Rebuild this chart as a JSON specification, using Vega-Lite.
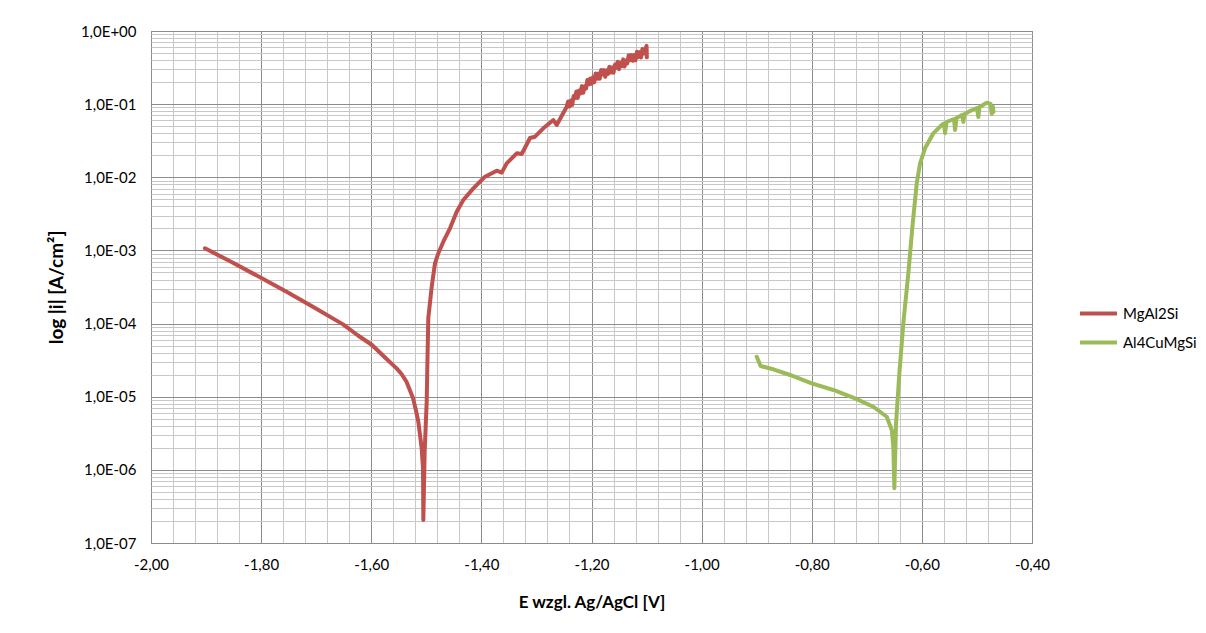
{
  "$schema": "https://vega.github.io/schema/vega-lite/v6.json",
  "autosize": {"type": "none"},
  "width": 881,
  "height": 512,
  "padding": {"left": 151, "top": 31, "right": 174, "bottom": 90},
  "background": "#ffffff",
  "config": {
    "view": {"stroke": "#8c8c8c", "strokeWidth": 1},
    "font": "Lato"
  },
  "data": {
    "values": [
      {"series": "MgAl2Si", "k": 1, "E": -1.902, "i": 0.00107},
      {"series": "MgAl2Si", "k": 2, "E": -1.8529, "i": 0.0006887},
      {"series": "MgAl2Si", "k": 3, "E": -1.802, "i": 0.0004295},
      {"series": "MgAl2Si", "k": 4, "E": -1.753, "i": 0.0002692},
      {"series": "MgAl2Si", "k": 5, "E": -1.7021, "i": 0.0001633},
      {"series": "MgAl2Si", "k": 6, "E": -1.6513, "i": 0.0000975},
      {"series": "MgAl2Si", "k": 7, "E": -1.624, "i": 0.00006871},
      {"series": "MgAl2Si", "k": 8, "E": -1.5986, "i": 0.00005093},
      {"series": "MgAl2Si", "k": 9, "E": -1.575, "i": 0.00003443},
      {"series": "MgAl2Si", "k": 10, "E": -1.554, "i": 0.0000244},
      {"series": "MgAl2Si", "k": 11, "E": -1.545, "i": 0.00002042},
      {"series": "MgAl2Si", "k": 12, "E": -1.536, "i": 0.000016},
      {"series": "MgAl2Si", "k": 13, "E": -1.53, "i": 0.00001236},
      {"series": "MgAl2Si", "k": 14, "E": -1.524, "i": 0.0000095},
      {"series": "MgAl2Si", "k": 15, "E": -1.519, "i": 0.000006577},
      {"series": "MgAl2Si", "k": 16, "E": -1.5145, "i": 0.00000455},
      {"series": "MgAl2Si", "k": 17, "E": -1.5084, "i": 0.00000197},
      {"series": "MgAl2Si", "k": 18, "E": -1.506, "i": 0.00000105},
      {"series": "MgAl2Si", "k": 19, "E": -1.5054, "i": 2.06e-7},
      {"series": "MgAl2Si", "k": 20, "E": -1.503, "i": 0.00000177},
      {"series": "MgAl2Si", "k": 21, "E": -1.4993, "i": 0.00000855},
      {"series": "MgAl2Si", "k": 22, "E": -1.4982, "i": 0.0000247},
      {"series": "MgAl2Si", "k": 23, "E": -1.4964, "i": 0.000118},
      {"series": "MgAl2Si", "k": 24, "E": -1.4902, "i": 0.000319},
      {"series": "MgAl2Si", "k": 25, "E": -1.4842, "i": 0.000667},
      {"series": "MgAl2Si", "k": 26, "E": -1.4782, "i": 0.000914},
      {"series": "MgAl2Si", "k": 27, "E": -1.4691, "i": 0.001315},
      {"series": "MgAl2Si", "k": 28, "E": -1.457, "i": 0.002004},
      {"series": "MgAl2Si", "k": 29, "E": -1.4448, "i": 0.003381},
      {"series": "MgAl2Si", "k": 30, "E": -1.4328, "i": 0.004887},
      {"series": "MgAl2Si", "k": 31, "E": -1.4146, "i": 0.007063},
      {"series": "MgAl2Si", "k": 32, "E": -1.3934, "i": 0.01019},
      {"series": "MgAl2Si", "k": 33, "E": -1.3721, "i": 0.0123},
      {"series": "MgAl2Si", "k": 34, "E": -1.363, "i": 0.01156},
      {"series": "MgAl2Si", "k": 35, "E": -1.354, "i": 0.01552},
      {"series": "MgAl2Si", "k": 36, "E": -1.3358, "i": 0.02128},
      {"series": "MgAl2Si", "k": 37, "E": -1.3267, "i": 0.0208},
      {"series": "MgAl2Si", "k": 38, "E": -1.3117, "i": 0.03443},
      {"series": "MgAl2Si", "k": 39, "E": -1.3026, "i": 0.03589},
      {"series": "MgAl2Si", "k": 40, "E": -1.2875, "i": 0.04677},
      {"series": "MgAl2Si", "k": 41, "E": -1.2693, "i": 0.06067},
      {"series": "MgAl2Si", "k": 42, "E": -1.2632, "i": 0.05188},
      {"series": "MgAl2Si", "k": 43, "E": -1.245, "i": 0.09226},
      {"series": "MgAl2Si", "k": 44, "E": -1.2425, "i": 0.1086},
      {"series": "MgAl2Si", "k": 45, "E": -1.24, "i": 0.0929},
      {"series": "MgAl2Si", "k": 46, "E": -1.2375, "i": 0.1119},
      {"series": "MgAl2Si", "k": 47, "E": -1.235, "i": 0.09772},
      {"series": "MgAl2Si", "k": 48, "E": -1.2325, "i": 0.1291},
      {"series": "MgAl2Si", "k": 49, "E": -1.23, "i": 0.1211},
      {"series": "MgAl2Si", "k": 50, "E": -1.2275, "i": 0.1493},
      {"series": "MgAl2Si", "k": 51, "E": -1.225, "i": 0.1216},
      {"series": "MgAl2Si", "k": 52, "E": -1.2225, "i": 0.1535},
      {"series": "MgAl2Si", "k": 53, "E": -1.22, "i": 0.1403},
      {"series": "MgAl2Si", "k": 54, "E": -1.2175, "i": 0.1762},
      {"series": "MgAl2Si", "k": 55, "E": -1.215, "i": 0.1429},
      {"series": "MgAl2Si", "k": 56, "E": -1.2125, "i": 0.175},
      {"series": "MgAl2Si", "k": 57, "E": -1.21, "i": 0.1629},
      {"series": "MgAl2Si", "k": 58, "E": -1.2075, "i": 0.2143},
      {"series": "MgAl2Si", "k": 59, "E": -1.205, "i": 0.1862},
      {"series": "MgAl2Si", "k": 60, "E": -1.2025, "i": 0.2234},
      {"series": "MgAl2Si", "k": 61, "E": -1.2, "i": 0.1897},
      {"series": "MgAl2Si", "k": 62, "E": -1.1975, "i": 0.2328},
      {"series": "MgAl2Si", "k": 63, "E": -1.195, "i": 0.1991},
      {"series": "MgAl2Si", "k": 64, "E": -1.1925, "i": 0.2624},
      {"series": "MgAl2Si", "k": 65, "E": -1.19, "i": 0.2228},
      {"series": "MgAl2Si", "k": 66, "E": -1.1875, "i": 0.2612},
      {"series": "MgAl2Si", "k": 67, "E": -1.185, "i": 0.2223},
      {"series": "MgAl2Si", "k": 68, "E": -1.1825, "i": 0.2924},
      {"series": "MgAl2Si", "k": 69, "E": -1.18, "i": 0.2541},
      {"series": "MgAl2Si", "k": 70, "E": -1.1775, "i": 0.2917},
      {"series": "MgAl2Si", "k": 71, "E": -1.175, "i": 0.2366},
      {"series": "MgAl2Si", "k": 72, "E": -1.1725, "i": 0.2911},
      {"series": "MgAl2Si", "k": 73, "E": -1.17, "i": 0.2588},
      {"series": "MgAl2Si", "k": 74, "E": -1.1675, "i": 0.3251},
      {"series": "MgAl2Si", "k": 75, "E": -1.165, "i": 0.2704},
      {"series": "MgAl2Si", "k": 76, "E": -1.1625, "i": 0.317},
      {"series": "MgAl2Si", "k": 77, "E": -1.16, "i": 0.2698},
      {"series": "MgAl2Si", "k": 78, "E": -1.1575, "i": 0.3467},
      {"series": "MgAl2Si", "k": 79, "E": -1.155, "i": 0.3155},
      {"series": "MgAl2Si", "k": 80, "E": -1.1525, "i": 0.3793},
      {"series": "MgAl2Si", "k": 81, "E": -1.15, "i": 0.3006},
      {"series": "MgAl2Si", "k": 82, "E": -1.1475, "i": 0.3698},
      {"series": "MgAl2Si", "k": 83, "E": -1.145, "i": 0.3311},
      {"series": "MgAl2Si", "k": 84, "E": -1.1425, "i": 0.4093},
      {"series": "MgAl2Si", "k": 85, "E": -1.14, "i": 0.3266},
      {"series": "MgAl2Si", "k": 86, "E": -1.1375, "i": 0.3936},
      {"series": "MgAl2Si", "k": 87, "E": -1.135, "i": 0.3606},
      {"series": "MgAl2Si", "k": 88, "E": -1.1325, "i": 0.4667},
      {"series": "MgAl2Si", "k": 89, "E": -1.13, "i": 0.399},
      {"series": "MgAl2Si", "k": 90, "E": -1.1275, "i": 0.4699},
      {"series": "MgAl2Si", "k": 91, "E": -1.125, "i": 0.3926},
      {"series": "MgAl2Si", "k": 92, "E": -1.1225, "i": 0.471},
      {"series": "MgAl2Si", "k": 93, "E": -1.12, "i": 0.3981},
      {"series": "MgAl2Si", "k": 94, "E": -1.1175, "i": 0.5212},
      {"series": "MgAl2Si", "k": 95, "E": -1.115, "i": 0.4406},
      {"series": "MgAl2Si", "k": 96, "E": -1.1125, "i": 0.514},
      {"series": "MgAl2Si", "k": 97, "E": -1.11, "i": 0.4345},
      {"series": "MgAl2Si", "k": 98, "E": -1.1075, "i": 0.5689},
      {"series": "MgAl2Si", "k": 99, "E": -1.105, "i": 0.492},
      {"series": "MgAl2Si", "k": 100, "E": -1.1025, "i": 0.561},
      {"series": "MgAl2Si", "k": 101, "E": -1.1, "i": 0.6252},
      {"series": "MgAl2Si", "k": 102, "E": -1.0995, "i": 0.4365},
      {"series": "Al4CuMgSi", "k": 1, "E": -0.8999, "i": 0.00003524},
      {"series": "Al4CuMgSi", "k": 2, "E": -0.893, "i": 0.0000263},
      {"series": "Al4CuMgSi", "k": 3, "E": -0.8698, "i": 0.00002371},
      {"series": "Al4CuMgSi", "k": 4, "E": -0.8394, "i": 0.00001982},
      {"series": "Al4CuMgSi", "k": 5, "E": -0.8, "i": 0.00001524},
      {"series": "Al4CuMgSi", "k": 6, "E": -0.7608, "i": 0.00001236},
      {"series": "Al4CuMgSi", "k": 7, "E": -0.7214, "i": 0.000009506},
      {"series": "Al4CuMgSi", "k": 8, "E": -0.6882, "i": 0.000007295},
      {"series": "Al4CuMgSi", "k": 9, "E": -0.6638, "i": 0.000005321},
      {"series": "Al4CuMgSi", "k": 10, "E": -0.6547, "i": 0.000003508},
      {"series": "Al4CuMgSi", "k": 11, "E": -0.6518, "i": 0.00000207},
      {"series": "Al4CuMgSi", "k": 12, "E": -0.65, "i": 5.598e-7},
      {"series": "Al4CuMgSi", "k": 13, "E": -0.6469, "i": 0.000004325},
      {"series": "Al4CuMgSi", "k": 14, "E": -0.6409, "i": 0.00002089},
      {"series": "Al4CuMgSi", "k": 15, "E": -0.6337, "i": 0.0001009},
      {"series": "Al4CuMgSi", "k": 16, "E": -0.6246, "i": 0.0004864},
      {"series": "Al4CuMgSi", "k": 17, "E": -0.6166, "i": 0.00235},
      {"series": "Al4CuMgSi", "k": 18, "E": -0.6093, "i": 0.008279},
      {"series": "Al4CuMgSi", "k": 19, "E": -0.6033, "i": 0.01552},
      {"series": "Al4CuMgSi", "k": 20, "E": -0.5943, "i": 0.02489},
      {"series": "Al4CuMgSi", "k": 21, "E": -0.5792, "i": 0.0399},
      {"series": "Al4CuMgSi", "k": 22, "E": -0.5639, "i": 0.05188},
      {"series": "Al4CuMgSi", "k": 23, "E": -0.5598, "i": 0.05433},
      {"series": "Al4CuMgSi", "k": 24, "E": -0.5579, "i": 0.0399},
      {"series": "Al4CuMgSi", "k": 25, "E": -0.5552, "i": 0.05702},
      {"series": "Al4CuMgSi", "k": 26, "E": -0.5416, "i": 0.06266},
      {"series": "Al4CuMgSi", "k": 27, "E": -0.5398, "i": 0.04426},
      {"series": "Al4CuMgSi", "k": 28, "E": -0.5371, "i": 0.06457},
      {"series": "Al4CuMgSi", "k": 29, "E": -0.527, "i": 0.07112},
      {"series": "Al4CuMgSi", "k": 30, "E": -0.5247, "i": 0.05702},
      {"series": "Al4CuMgSi", "k": 31, "E": -0.5225, "i": 0.07328},
      {"series": "Al4CuMgSi", "k": 32, "E": -0.5107, "i": 0.08185},
      {"series": "Al4CuMgSi", "k": 33, "E": -0.4998, "i": 0.08851},
      {"series": "Al4CuMgSi", "k": 34, "E": -0.4975, "i": 0.06668},
      {"series": "Al4CuMgSi", "k": 35, "E": -0.4952, "i": 0.09141},
      {"series": "Al4CuMgSi", "k": 36, "E": -0.4822, "i": 0.1047},
      {"series": "Al4CuMgSi", "k": 37, "E": -0.4753, "i": 0.1005},
      {"series": "Al4CuMgSi", "k": 38, "E": -0.4731, "i": 0.07328},
      {"series": "Al4CuMgSi", "k": 39, "E": -0.4708, "i": 0.09141},
      {"series": "Al4CuMgSi", "k": 40, "E": -0.4699, "i": 0.07816}
    ]
  },
  "mark": {"type": "line", "strokeWidth": 4, "strokeJoin": "round", "strokeCap": "round", "clip": true},
  "encoding": {
    "x": {
      "field": "E",
      "type": "quantitative",
      "scale": {"domain": [-2, -0.4], "nice": false, "zero": false},
      "axis": {
        "title": "E wzgl. Ag/AgCl [V]",
        "titleFont": "Lato",
        "titleFontSize": 17,
        "titleFontWeight": "bold",
        "titleColor": "#000000",
        "titlePadding": 22,
        "values": [-2, -1.96, -1.92, -1.88, -1.84, -1.8, -1.76, -1.72, -1.68, -1.64, -1.6, -1.56, -1.52, -1.48, -1.44, -1.4, -1.36, -1.32, -1.28, -1.24, -1.2, -1.16, -1.12, -1.08, -1.04, -1, -0.96, -0.92, -0.88, -0.84, -0.8, -0.76, -0.72, -0.68, -0.64, -0.6, -0.56, -0.52, -0.48, -0.44, -0.4],
        "labelExpr": "abs(datum.value*5 - round(datum.value*5)) < 0.001 ? replace(replace(format(datum.value, '.2f'), '.', ','), '\u2212', '-') : ''",
        "labelFont": "Lato",
        "labelFontSize": 15,
        "labelColor": "#000000",
        "labelPadding": 14,
        "labelOverlap": false,
        "labelFlush": false,
        "labelBound": false,
        "ticks": false,
        "domain": false,
        "grid": true,
        "gridWidth": 1,
        "gridColor": {"condition": {"test": "abs(datum.value*5 - round(datum.value*5)) < 0.001", "value": "#8c8c8c"}, "value": "#c8c8c8"}
      }
    },
    "y": {
      "field": "i",
      "type": "quantitative",
      "scale": {"type": "log", "domain": [1e-7, 1], "nice": false},
      "axis": {
        "title": "log |i| [A/cm²]",
        "titleFont": "Lato",
        "titleFontSize": 19,
        "titleFontWeight": "bold",
        "titleColor": "#000000",
        "titlePadding": 14,
        "values": [1e-7, 2e-7, 3e-7, 4e-7, 5e-7, 6e-7, 7e-7, 8e-7, 9e-7, 1e-6, 2e-6, 3e-6, 4e-6, 5e-6, 6e-6, 7e-6, 8e-6, 9e-6, 1e-5, 2e-5, 3e-5, 4e-5, 5e-5, 6e-5, 7e-5, 8e-5, 9e-5, 1e-4, 2e-4, 3e-4, 4e-4, 5e-4, 6e-4, 7e-4, 8e-4, 9e-4, 0.001, 0.002, 0.003, 0.004, 0.005, 0.006, 0.007, 0.008, 0.009, 0.01, 0.02, 0.03, 0.04, 0.05, 0.06, 0.07, 0.08, 0.09, 0.1, 0.2, 0.3, 0.4, 0.5, 0.6, 0.7, 0.8, 0.9, 1],
        "labelExpr": "abs(log(datum.value)/LN10 - round(log(datum.value)/LN10)) < 0.001 ? '1,0E' + (round(log(datum.value)/LN10) >= 0 ? '+' : '-') + (abs(round(log(datum.value)/LN10)) < 10 ? '0' : '') + abs(round(log(datum.value)/LN10)) : ''",
        "labelFont": "Lato",
        "labelFontSize": 15,
        "labelColor": "#000000",
        "labelPadding": 15,
        "labelOverlap": false,
        "labelBound": false,
        "labelFlush": false,
        "ticks": false,
        "domain": false,
        "grid": true,
        "gridWidth": 1,
        "gridColor": {"condition": {"test": "abs(log(datum.value)/LN10 - round(log(datum.value)/LN10)) < 0.001", "value": "#8c8c8c"}, "value": "#c8c8c8"}
      }
    },
    "color": {
      "field": "series",
      "type": "nominal",
      "scale": {"domain": ["MgAl2Si", "Al4CuMgSi"], "range": ["#C0504D", "#9BBB59"]},
      "legend": {
        "title": null,
        "orient": "none",
        "legendX": 927,
        "legendY": 262,
        "symbolType": "stroke",
        "symbolSize": 1369,
        "symbolStrokeWidth": 4,
        "labelFont": "Lato",
        "labelFontSize": 15,
        "labelColor": "#000000",
        "labelOffset": 4,
        "rowPadding": -5
      }
    },
    "order": {"field": "k", "type": "quantitative"}
  }
}
